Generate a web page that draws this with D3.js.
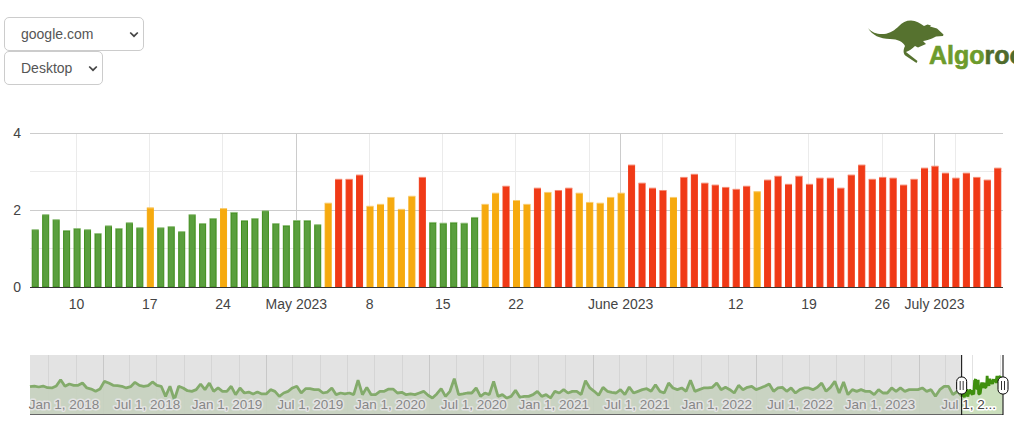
<!DOCTYPE html>
<html>
<head>
<meta charset="utf-8">
<script src="https://cdnjs.cloudflare.com/ajax/libs/d3/7.8.5/d3.min.js"></script>
<style>
  html, body { margin: 0; padding: 0; background: #fff; overflow: hidden; }
  body { width: 1014px; height: 421px; position: relative; font-family: "Liberation Sans", Arial, sans-serif; }
  select {
    position: absolute; left: 4px; height: 34px; box-sizing: border-box;
    font: 14px "Liberation Sans", Arial, sans-serif; color: #555; background-color: #fff;
    border: 1px solid #ccc; border-radius: 5px; padding: 0 0 0 16px; margin: 0;
    appearance: none; -webkit-appearance: none;
    background-image: url("data:image/svg+xml,%3Csvg xmlns='http://www.w3.org/2000/svg' width='10' height='7'%3E%3Cpath d='M1.2 1.5L5 5.2L8.8 1.5' fill='none' stroke='%23444' stroke-width='1.7'/%3E%3C/svg%3E");
    background-repeat: no-repeat; background-position: right 4px center;
  }
  #site { top: 17px; width: 140px; }
  #device { top: 51px; width: 99px; }
  svg { position: absolute; left: 0; top: 0; }
  text { font-family: "Liberation Sans", Arial, sans-serif; }
  .domain { display: none; }
  .tick line { display: none; }
</style>
</head>
<body>
<select id="site"><option>google.com</option></select>
<select id="device"><option>Desktop</option></select>
<svg id="chart" width="1014" height="421"></svg>
<script>
// daily score, 6 Apr 2023 onwards
const firstDay = new Date(Date.UTC(2023, 3, 6));
const dailyValues = [
  1.5, 1.89, 1.76, 1.48, 1.53, 1.5, 1.4, 1.6, 1.53, 1.68, 1.55, 2.07, 1.55, 1.58, 1.45,
  1.89, 1.66, 1.79, 2.05, 1.95, 1.74, 1.79, 1.99, 1.66, 1.61,
  1.74, 1.74, 1.63, 2.19, 2.81, 2.81, 2.92, 2.11, 2.16, 2.34, 2.03, 2.37, 2.86, 1.69, 1.67,
  1.69, 1.67, 1.82, 2.16, 2.45, 2.63, 2.26, 2.16, 2.58, 2.47, 2.52, 2.58, 2.45, 2.21, 2.19, 2.34,
  2.45, 3.18, 2.71, 2.58, 2.52, 2.34, 2.86, 2.94, 2.71, 2.66, 2.6, 2.55, 2.63, 2.49, 2.79,
  2.89, 2.68, 2.89, 2.68, 2.84, 2.84, 2.58, 2.92, 3.18, 2.81, 2.86, 2.84, 2.66, 2.81, 3.1,
  3.15, 2.97, 2.84, 2.97, 2.86, 2.79, 3.1
];

// long history for the range filter, one reading about every 10 days up to firstDay
const historyStart = new Date(Date.UTC(2017, 6, 21));
const historyValues = [
  2.28, 2.33, 2.25, 2.33, 2.19, 2.17, 2.33, 2.86, 2.31, 2.5, 2.39, 2.39, 2.58, 2.17, 2.08, 1.89, 2.08, 2.72,
  2.58, 2.39, 2.36, 2.31, 2.17, 2.28, 2.64, 2.39, 2.31, 2.36, 2.67, 2.39, 2.31, 1.47, 2.31, 1.19, 2.31, 2.17, 1.94,
  1.89, 2.03, 2.5, 2.03, 2.58, 1.89, 2.17, 1.89, 1.89, 2.31, 1.61, 2.17, 1.75, 1.83, 1.67, 1.83, 1.67, 1.67,
  2.03, 1.89, 1.47, 1.75, 1.89, 2.17, 2.31, 1.75, 2.11, 2.11, 2.03, 2.03, 1.75, 1.83, 2.17, 1.61, 1.75,
  1.67, 1.75, 1.61, 2.83, 1.61, 2.22, 1.61, 1.61, 1.89, 1.89, 2.08, 2.08, 1.75, 1.81, 1.61, 1.67, 1.61, 1.75,
  1.89, 1.56, 1.33, 1.67, 2.11, 1.47, 1.89, 2.94, 1.61, 1.67, 1.75, 1.75, 2.17, 1.47, 1.75, 1.61, 2.72, 1.47,
  1.61, 1.33, 1.47, 1.97, 1.39, 1.47, 1.47, 1.61, 1.89, 1.47, 1.61, 1.33, 1.89, 1.75, 2.03, 1.75, 1.89, 1.89,
  1.61, 2.78, 2.17, 1.89, 1.56, 2.22, 1.89, 1.81, 1.75, 2.03, 1.61, 2.25, 1.75, 1.89, 2.03,
  2.11, 1.89, 2.44, 1.89, 1.75, 2.58, 2.17,
  2.03, 2.17, 1.89, 2.81, 1.89, 2.03, 2.17, 2.17, 2.22, 2.58, 2.03, 2.22, 2.03, 1.75, 2.39, 2.03, 2.22, 2.31,
  2.03, 2.17, 2.31, 2.5, 1.89, 2.17, 2.22, 1.89, 2.17, 1.75, 2.03, 2.17, 2.17, 2.03, 2.22, 2.58, 1.89, 2.22,
  2.72, 1.75, 2.67, 1.61, 2.03, 1.89, 2.03, 1.89, 1.89, 1.61, 2.03, 1.75, 1.75, 2.17, 1.89, 2.17, 1.89, 2.03,
  2.03, 2.03, 2.17, 1.89, 2.03, 1.47, 2.03, 2.31, 2.31, 1.61, 1.89
];

const yTicks = [0, 2, 4];
const yMinorTicks = [1, 3];
const monthLabels = { 4: 'May 2023', 5: 'June 2023', 6: 'July 2023' };
const labelledDays = [
  [2023, 3, 10], [2023, 3, 17], [2023, 3, 24], [2023, 4, 1], [2023, 4, 8], [2023, 4, 15], [2023, 4, 22],
  [2023, 5, 1], [2023, 5, 12], [2023, 5, 19], [2023, 5, 26], [2023, 6, 1]
].map(d => new Date(Date.UTC(...d)));
const rangeLabels = ['Jan 1, 2018', 'Jul 1, 2018', 'Jan 1, 2019', 'Jul 1, 2019', 'Jan 1, 2020', 'Jul 1, 2020',
  'Jan 1, 2021', 'Jul 1, 2021', 'Jan 1, 2022', 'Jul 1, 2022', 'Jan 1, 2023', 'Jul 1, 2...'];

const warnAt = 2, badAt = 2.5;
const barColor = v => v >= badAt ? '#f03a17' : v >= warnAt ? '#f6aa0f' : '#5a9f3e';
const barEdge = v => v >= badAt ? '#f03a17' : v >= warnAt ? '#f6aa0f' : '#3e8c1a';
const barTop = v => v >= badAt ? '#f58a72' : v >= warnAt ? '#f9cc6f' : '#93c07f';

const daily = dailyValues.map((v, i) => ({ date: d3.utcDay.offset(firstDay, i), value: v }));
const lastDay = daily[daily.length - 1].date;
const past = historyValues.map((v, i) => ({
  date: new Date(+historyStart + (firstDay - historyStart) * i / historyValues.length),
  value: v
}));
const allPoints = past.concat(daily);

const svg = d3.select('#chart');

// ---- main chart ----
const plotLeft = 30, plotRight = 1003, plotTop = 133, plotBottom = 287;
const x = d3.scaleUtc()
  .domain([d3.utcHour.offset(firstDay, -12), d3.utcHour.offset(lastDay, 12)])
  .range([plotLeft, plotRight]);
const y = d3.scaleLinear().domain([0, 4]).range([plotBottom, plotTop]);

const grid = svg.append('g').attr('shape-rendering', 'crispEdges');
grid.append('g').selectAll('line').data(yMinorTicks).join('line')
  .attr('x1', plotLeft).attr('x2', plotRight).attr('y1', d => y(d)).attr('y2', d => y(d))
  .attr('stroke', '#ebebeb');
const weekLines = d3.utcMonday.range(firstDay, lastDay);
grid.append('g').selectAll('line').data(weekLines).join('line')
  .attr('x1', d => x(d) - 0.6).attr('x2', d => x(d) - 0.6).attr('y1', plotTop).attr('y2', plotBottom)
  .attr('stroke', '#ebebeb');
const monthLines = d3.utcMonth.range(firstDay, lastDay);
grid.append('g').selectAll('line').data(monthLines).join('line')
  .attr('x1', d => x(d) - 0.6).attr('x2', d => x(d) - 0.6).attr('y1', plotTop).attr('y2', plotBottom)
  .attr('stroke', '#ccc');
grid.append('g').selectAll('line').data(yTicks.filter(d => d > 0)).join('line')
  .attr('x1', plotLeft).attr('x2', plotRight).attr('y1', d => y(d)).attr('y2', d => y(d))
  .attr('stroke', '#ccc');

const barW = 7;
const bars = svg.append('g').selectAll('g').data(daily).join('g');
bars.append('rect')
  .attr('x', d => x(d.date) - barW / 2 + 0.5).attr('width', barW - 1)
  .attr('y', d => y(d.value) + 1).attr('height', d => plotBottom - y(d.value) - 1)
  .attr('fill', d => barColor(d.value)).attr('stroke', d => barEdge(d.value));
bars.append('rect')
  .attr('x', d => x(d.date) - barW / 2).attr('width', barW)
  .attr('y', d => y(d.value)).attr('height', 1)
  .attr('fill', d => barTop(d.value));

svg.append('line').attr('x1', plotLeft).attr('x2', plotRight).attr('y1', plotBottom + 0.5).attr('y2', plotBottom + 0.5)
  .attr('stroke', '#333');

const xAxis = d3.axisBottom(x).tickValues(labelledDays).tickSize(0).tickPadding(0)
  .tickFormat(d => d.getUTCDate() === 1 ? monthLabels[d.getUTCMonth()] : d.getUTCDate());
svg.append('g').attr('transform', `translate(-1,${plotBottom + 12})`).call(xAxis)
  .selectAll('text').attr('font-size', 14).attr('fill', '#444');

const yAxis = d3.axisLeft(y).tickValues(yTicks).tickSize(0).tickPadding(0).tickFormat(d3.format('d'));
svg.append('g').attr('transform', 'translate(21,0)').call(yAxis)
  .selectAll('text').attr('font-size', 14).attr('fill', '#444');

// ---- range filter ----
const rTop = 355, rBottom = 414;
const rx = d3.scaleUtc().domain([historyStart, d3.utcHour.offset(lastDay, 12)]).range([plotLeft, plotRight]);
const ry = d3.scaleLinear().domain([0, 59 / 12]).range([rBottom, rTop]);
const rangeG = svg.append('g');

const monthGrid = d3.utcMonth.every(2).range(historyStart, lastDay);
rangeG.append('g').attr('shape-rendering', 'crispEdges').selectAll('line').data(monthGrid).join('line')
  .attr('x1', d => rx(d)).attr('x2', d => rx(d)).attr('y1', rTop).attr('y2', rBottom)
  .attr('stroke', d => d.getUTCMonth() === 0 ? '#c8c8c8' : '#e2e2e2');

const area = d3.area().x(d => rx(d.date)).y0(rBottom).y1(d => ry(d.value));
const line = d3.line().x(d => rx(d.date)).y(d => ry(d.value));
rangeG.append('path').datum(allPoints).attr('d', area).attr('fill', '#c5dcb6').attr('fill-opacity', 0.9);
rangeG.append('path').datum(allPoints).attr('d', line).attr('fill', 'none')
  .attr('stroke', '#3f8f0f').attr('stroke-width', 2.8).attr('stroke-linejoin', 'bevel');

const labelDates = d3.utcMonth.every(6).range(new Date(Date.UTC(2018, 0, 1)), d3.utcDay.offset(lastDay, 1));
rangeG.append('g').selectAll('text').data(labelDates).join('text')
  .attr('x', d => rx(d) - 4).attr('y', 409).attr('text-anchor', 'end')
  .attr('font-size', 13.5).attr('fill', '#444')
  .attr('stroke', '#fff').attr('stroke-width', 3).attr('paint-order', 'stroke').attr('stroke-linejoin', 'round')
  .text((d, i) => rangeLabels[i]);

// unselected part is washed out
const selX0 = rx(firstDay), selX1 = plotRight;
rangeG.append('rect').attr('x', plotLeft).attr('y', rTop).attr('width', selX0 - plotLeft).attr('height', rBottom - rTop)
  .attr('fill', 'rgb(200,200,200)').attr('fill-opacity', 0.5);

rangeG.append('line').attr('x1', plotLeft).attr('x2', plotRight).attr('y1', rBottom + 0.5).attr('y2', rBottom + 0.5)
  .attr('stroke', '#666');

[selX0, selX1].forEach(hx => {
  const h = rangeG.append('g').attr('transform', `translate(${hx},0)`);
  h.append('line').attr('y1', rTop).attr('y2', rBottom + 1).attr('stroke', '#000');
  h.append('rect').attr('x', -5).attr('y', 377).attr('width', 10).attr('height', 17).attr('rx', 4.5)
    .attr('fill', '#fff').attr('stroke', '#000');
  [-1.5, 1.5].forEach(o => h.append('line').attr('x1', o).attr('x2', o).attr('y1', 381).attr('y2', 390)
    .attr('stroke', '#333'));
});

// ---- logo ----
const logo = svg.append('g');
logo.append('path').attr('fill', '#56722f')
  .attr('d', 'M868 28C872 33 878 34.5 884 34C890 33.5 895 30 899 26C902 22.5 906 20.5 911 20.5C916 20.5 920 23 924 26L927.5 24.5L931 25.5L930 26.5L937 28.5L943.5 34.5L943 36L936 36.5L932 38.5C928 40 925 41 923 41L926 44L918 47.5L915 46C912 49 909 51 906 52L917.5 61L916.5 63L906 56C903 54 903 50 905 46C903 42 898 39 890 39C880 39 872 35 868 28Z');
logo.append('text').attr('x', 929).attr('y', 64).attr('font-size', 25).attr('font-weight', 700)
  .attr('fill', '#6d9b2c').attr('stroke', '#6d9b2c').attr('stroke-width', 0.6).text('Algo')
  .append('tspan').attr('fill', '#4f6b2c').attr('stroke', '#4f6b2c').text('roo');
</script>
</body>
</html>
